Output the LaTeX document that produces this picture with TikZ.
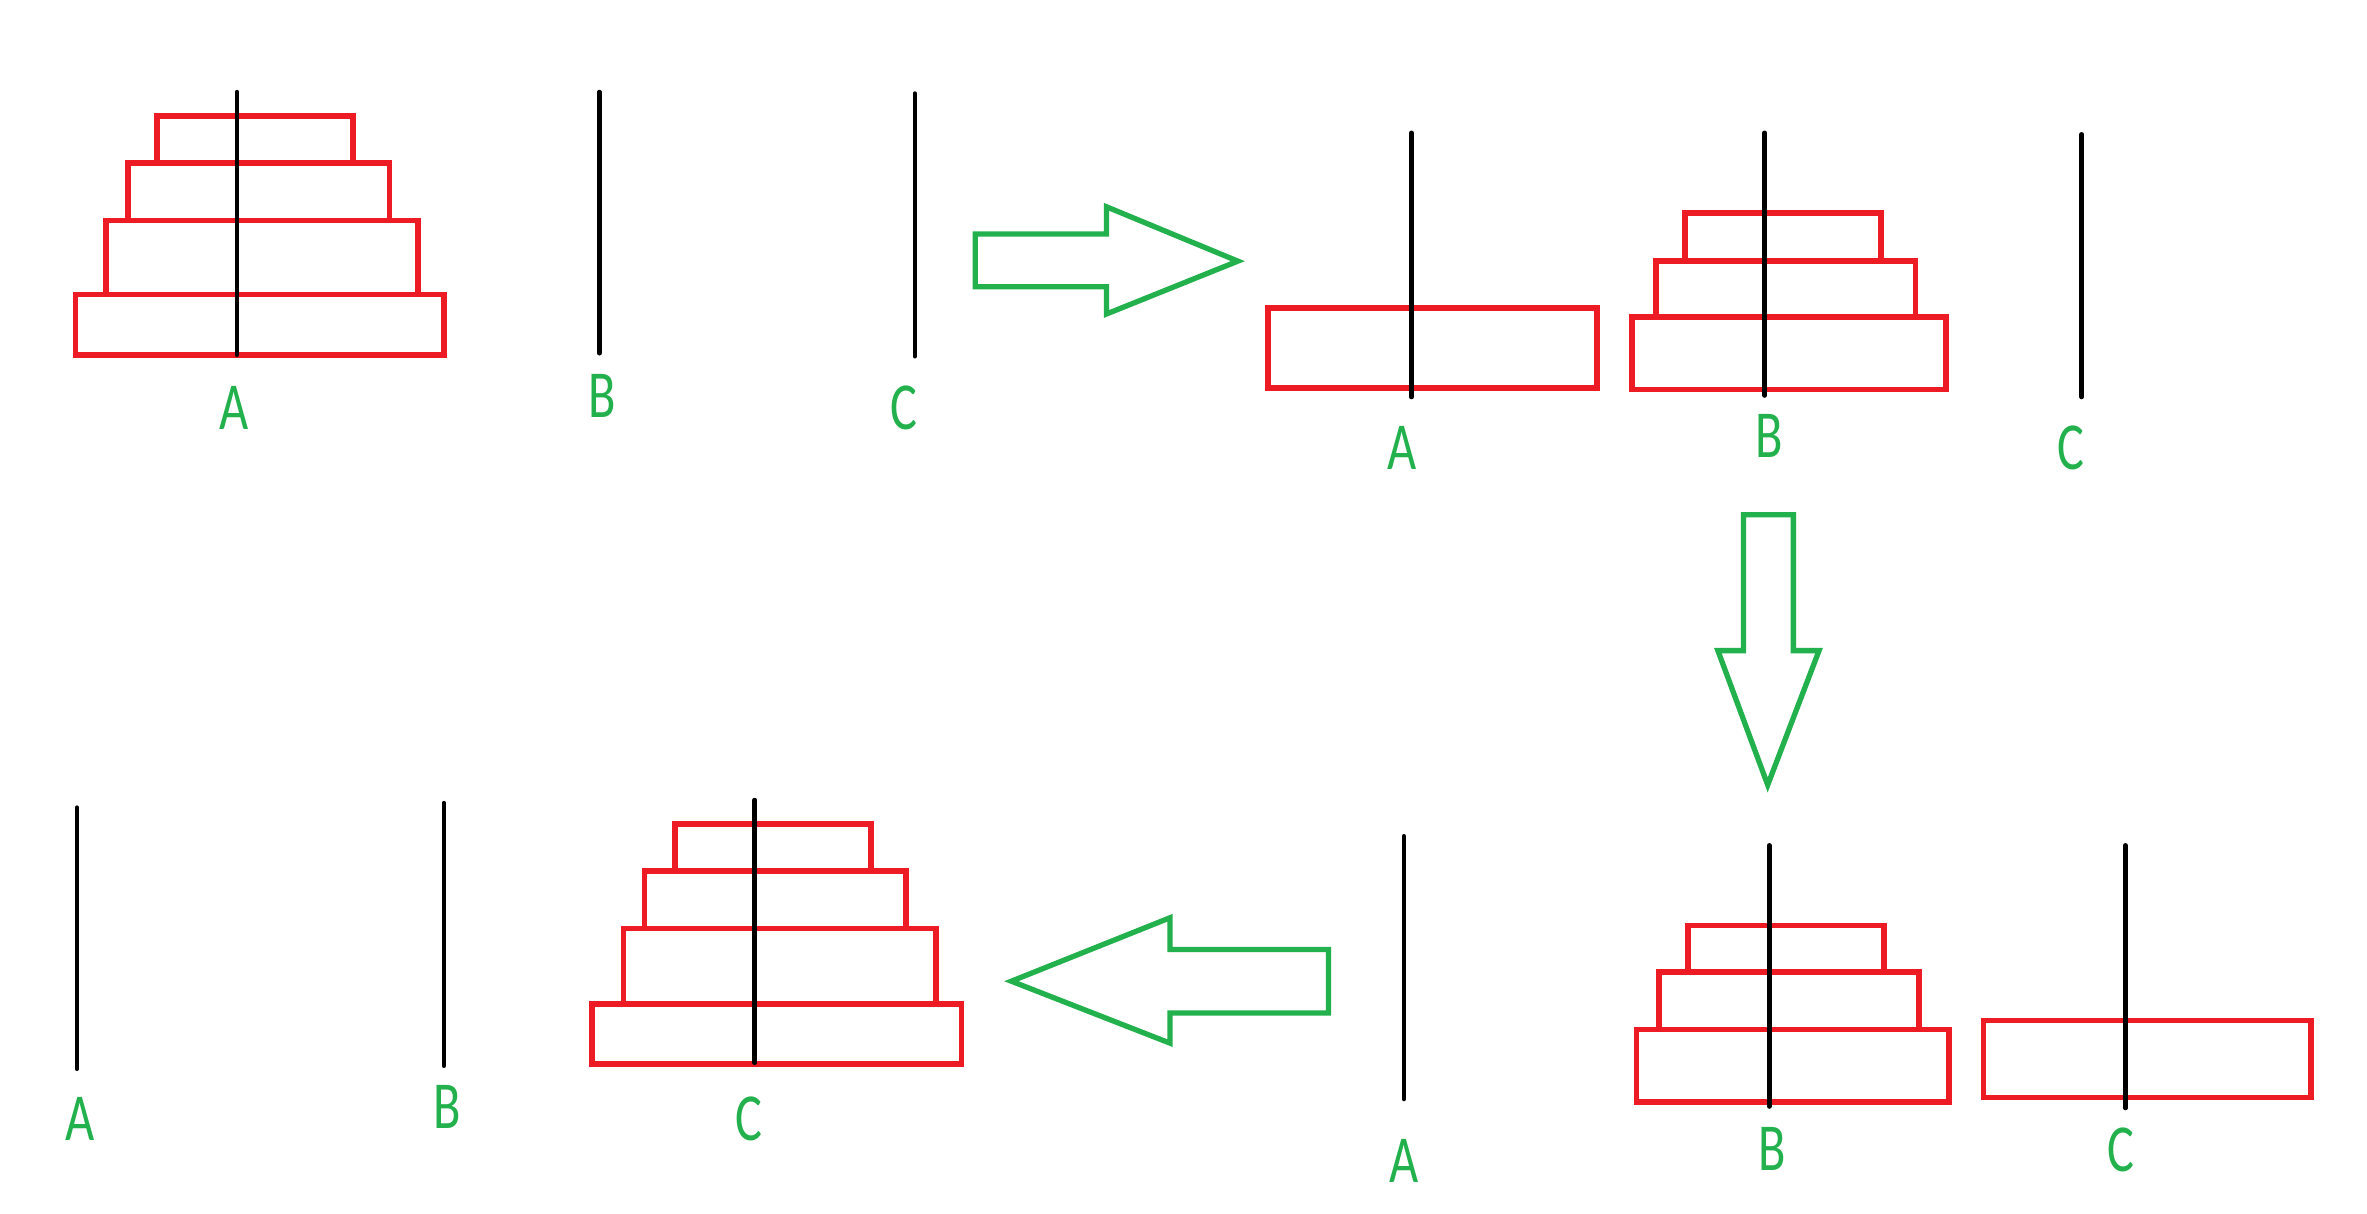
\documentclass[tikz,border=0pt]{standalone}
\usepackage{fontspec}
\setmainfont{Carlito}
\definecolor{hanoired}{HTML}{ED1C24}
\definecolor{hanoigreen}{HTML}{22B14C}
\newcommand{\pegname}[1]{\scalebox{0.75}[1]{#1}}

\begin{document}
\begin{tikzpicture}[x=0.15mm,y=-0.15mm,
  peg/.style={line width=1.3pt,line cap=round},
  disk/.style={draw=hanoired,line width=1.6pt},
  move/.style={draw=hanoigreen,line width=1.5pt,line join=miter},
  lbl/.style={text=hanoigreen,font=\fontsize{19}{19}\selectfont}]
\useasboundingbox (0,0) rectangle (1568,804);

% start: everything on A
\foreach \l/\r/\t/\b in {104/234/77/108,85/258/108/146,70/277/146/195,50/294/195/235} {
\draw[disk] (\l,\t) rectangle (\r,\b);
}
\foreach \x/\ya/\yb in {157/61/235,397/61/234,606/62/236} {
\draw[peg] (\x,\ya) -- (\x,\yb);
}
\node[lbl] (a1) at (155,270) {\pegname{A}};
\node[lbl] (b1) at (399,262) {\pegname{B}};
\node[lbl] (c1) at (599,270) {\pegname{C}};

\draw[move] (646,155) -- (733,155) -- (733,137) -- (820,173) -- (733,208) -- (733,190) -- (646,190) -- cycle;

% step 2: top three on B
\draw[disk] (840,204) rectangle (1058,257);
\foreach \l/\r/\t/\b in {1116/1246/141/173,1097/1269/173/210,1081/1289/210/258} {
\draw[disk] (\l,\t) rectangle (\r,\b);
}
\foreach \x/\ya/\yb in {935/88/263,1169/88/262,1379/89/263} {
\draw[peg] (\x,\ya) -- (\x,\yb);
}
\node[lbl] (a2) at (929,297) {\pegname{A}};
\node[lbl] (b2) at (1172,289) {\pegname{B}};
\node[lbl] (c2) at (1372,297) {\pegname{C}};

\draw[move] (1155,341) -- (1188,341) -- (1188,431) -- (1205,431) -- (1171,520) -- (1138,431) -- (1155,431) -- cycle;

% step 3: largest on C
\draw[disk] (1314,676) rectangle (1531,727);
\foreach \l/\r/\t/\b in {1118/1248/613/644,1099/1271/644/682,1084/1291/682/730} {
\draw[disk] (\l,\t) rectangle (\r,\b);
}
\foreach \x/\ya/\yb in {930/554/728,1172/560/733,1408/560/734} {
\draw[peg] (\x,\ya) -- (\x,\yb);
}
\node[lbl] (a3) at (930,769) {\pegname{A}};
\node[lbl] (b3) at (1174,761) {\pegname{B}};
\node[lbl] (c3) at (1405,762) {\pegname{C}};

\draw[move] (880,629) -- (775,629) -- (775,608) -- (670,650) -- (775,691) -- (775,671) -- (880,671) -- cycle;

% end: everything on C
\foreach \l/\r/\t/\b in {447/577/546/577,427/600/577/615,413/620/615/665,392/637/665/705} {
\draw[disk] (\l,\t) rectangle (\r,\b);
}
\foreach \x/\ya/\yb in {51/535/708,294/532/706,500/530/704} {
\draw[peg] (\x,\ya) -- (\x,\yb);
}
\node[lbl] (a4) at (53,741) {\pegname{A}};
\node[lbl] (b4) at (296,733) {\pegname{B}};
\node[lbl] (c4) at (496,741) {\pegname{C}};
\end{tikzpicture}
\end{document}
